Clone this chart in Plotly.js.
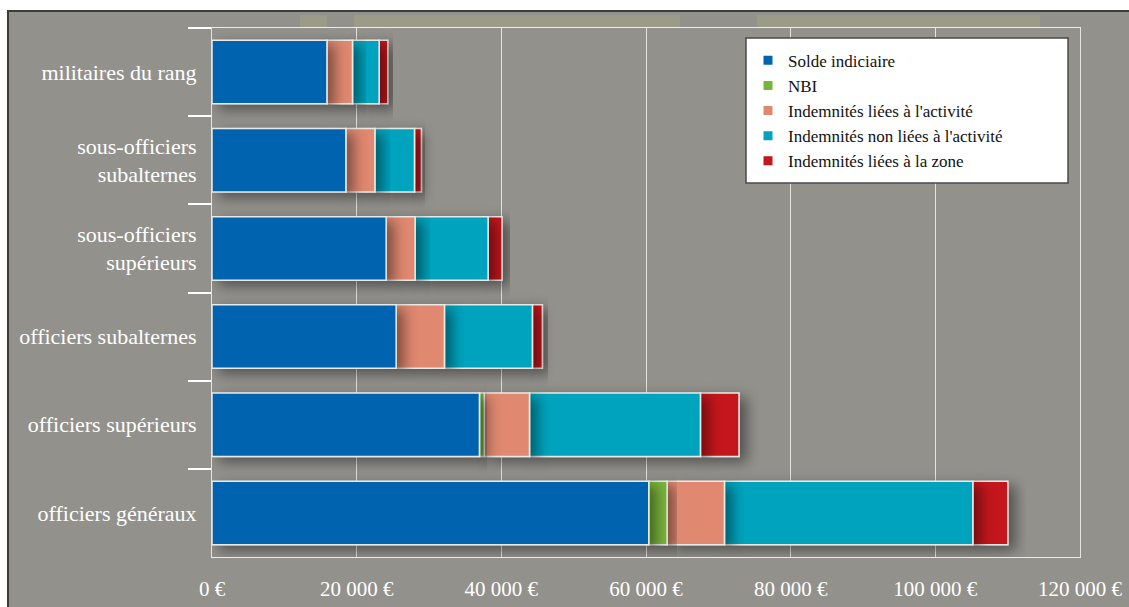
<!DOCTYPE html>
<html>
<head>
<meta charset="utf-8">
<script src="https://cdn.plot.ly/plotly-3.0.1.min.js"></script>
<style>
  html, body { margin: 0; padding: 0; background: #ffffff; }
  #wrap { position: relative; width: 1129px; height: 607px; overflow: hidden; }
  #chart { position: absolute; left: 0; top: 0; width: 1129px; height: 607px; }
  .deco { position: absolute; pointer-events: none; }
</style>
</head>
<body>
<div id="wrap">
  <div id="chart"></div>
  <div class="deco" style="left:0;top:0;width:1129px;height:10px;background:#ffffff;"></div>
  <div class="deco" style="left:0;top:0;width:7px;height:607px;background:#ffffff;"></div>
  <div class="deco" style="left:7px;top:10px;width:1122px;height:2px;background:#3c3c3a;"></div>
  <div class="deco" style="left:7px;top:10px;width:2px;height:597px;background:#3c3c3a;"></div>
  <div class="deco" style="left:300px;top:15px;width:27px;height:12px;background:#9b9b87;"></div>
  <div class="deco" style="left:354px;top:15px;width:326px;height:12px;background:#9b9b87;"></div>
  <div class="deco" style="left:757px;top:15px;width:283px;height:12px;background:#9b9b87;"></div>
</div>
<script>
// Categories (top to bottom)
const categories = [
  'militaires du rang',
  'sous-officiers<br>subalternes',
  'sous-officiers<br>supérieurs',
  'officiers subalternes',
  'officiers supérieurs',
  'officiers généraux'
];
// Series values (€)
const soldeIndiciaire      = [15890, 18510, 24080, 25460, 36970, 60380];
const nbi                  = [0, 0, 0, 0, 670, 2540];
const indemnitesActivite   = [3530, 4010, 4000, 6670, 6250, 7920];
const indemnitesNonLiees   = [3690, 5470, 10090, 12160, 23630, 34340];
const indemnitesZone       = [1200, 960, 1930, 1380, 5340, 4850];
// Series names and colours
const seriesNames = ['Solde indiciaire', 'NBI', "Indemnités liées à l'activité", "Indemnités non liées à l'activité", 'Indemnités liées à la zone'];
const seriesColors = ['#0064b0', '#7ab53b', '#e0886f', '#00a3bd', '#c4161c'];
// Axis ticks
const xTickVals = [0, 20000, 40000, 60000, 80000, 100000, 120000];
const xTickText = ['0 €', '20 000 €', '40 000 €', '60 000 €', '80 000 €', '100 000 €', '120 000 €'];

const seriesValues = [soldeIndiciaire, nbi, indemnitesActivite, indemnitesNonLiees, indemnitesZone];

// cumulative bases
const bases = [];
let running = categories.map(() => 0);
seriesValues.forEach(vals => {
  bases.push(running.slice());
  running = running.map((r, i) => r + vals[i]);
});

const traces = [];
// draw last segment first so each earlier segment's shadow falls on the next
for (let s = seriesValues.length - 1; s >= 0; s--) {
  traces.push({
    type: 'bar',
    orientation: 'h',
    y: categories,
    x: seriesValues[s],
    base: bases[s],
    name: seriesNames[s],
    showlegend: false,
    marker: { color: seriesColors[s], line: { color: '#e9e9e6', width: 1.5 } },
    hoverinfo: 'skip'
  });
}
// legend entries
for (let s = 0; s < seriesValues.length; s++) {
  traces.push({
    type: 'scatter',
    mode: 'markers',
    x: [null],
    y: [null],
    name: seriesNames[s],
    marker: { symbol: 'square', size: 9, color: seriesColors[s] },
    showlegend: true
  });
}

const layout = {
  width: 1129,
  height: 607,
  paper_bgcolor: '#92918c',
  plot_bgcolor: 'rgba(0,0,0,0)',
  margin: { l: 212, r: 49, t: 28, b: 50 },
  barmode: 'overlay',
  bargap: 0.28,
  font: { family: 'Liberation Serif, serif', color: '#ffffff' },
  showlegend: true,
  xaxis: {
    range: [0, 120000],
    tickvals: xTickVals,
    ticktext: xTickText,
    showgrid: true,
    gridcolor: '#e4e4e0',
    gridwidth: 1,
    zeroline: false,
    showline: true,
    linecolor: '#ececea',
    linewidth: 1,
    mirror: true,
    ticks: '',
    ticklabelstandoff: 13,
    tickfont: { family: 'Liberation Serif, serif', size: 21, color: '#ffffff' },
    fixedrange: true
  },
  yaxis: {
    type: 'category',
    categoryorder: 'array',
    categoryarray: categories,
    autorange: 'reversed',
    showgrid: false,
    zeroline: false,
    showline: true,
    linecolor: '#e4e4e0',
    linewidth: 1,
    mirror: true,
    ticks: 'outside',
    tickson: 'boundaries',
    ticklen: 23,
    tickwidth: 2,
    tickcolor: '#ffffff',
    ticklabelstandoff: 10,
    tickfont: { family: 'Liberation Serif, serif', size: 22, color: '#ffffff' },
    fixedrange: true
  },
  legend: {
    x: 0.6175,
    xanchor: 'left',
    y: 0.972,
    yanchor: 'top',
    bgcolor: 'rgba(0,0,0,0)',
    borderwidth: 0,
    traceorder: 'normal',
    font: { family: 'Liberation Serif, serif', size: 17, color: '#111111' }
  },
  shapes: [
    {
      type: 'rect', xref: 'paper', yref: 'paper',
      x0: 0.6152, x1: 0.9862, y0: 0.7070, y1: 0.9811,
      fillcolor: '#ffffff',
      line: { color: '#4a4a48', width: 1.5 },
      layer: 'above'
    }
  ]
};

Plotly.newPlot('chart', traces, layout, { displayModeBar: false, staticPlot: true }).then(gd => {
  const svg = gd.querySelector('svg.main-svg');
  const ns = 'http://www.w3.org/2000/svg';
  let defs = svg.querySelector('defs');
  if (!defs) { defs = document.createElementNS(ns, 'defs'); svg.insertBefore(defs, svg.firstChild); }
  const filter = document.createElementNS(ns, 'filter');
  filter.setAttribute('id', 'barShadow');
  filter.setAttribute('x', '-30%');
  filter.setAttribute('y', '-30%');
  filter.setAttribute('width', '180%');
  filter.setAttribute('height', '180%');
  const fe = document.createElementNS(ns, 'feDropShadow');
  fe.setAttribute('dx', '7');
  fe.setAttribute('dy', '5');
  fe.setAttribute('stdDeviation', '7');
  fe.setAttribute('flood-color', '#000000');
  fe.setAttribute('flood-opacity', '0.45');
  filter.appendChild(fe);
  defs.appendChild(filter);
  gd.querySelectorAll('.barlayer .point path').forEach(p => p.setAttribute('filter', 'url(#barShadow)'));
});
</script>
</body>
</html>
